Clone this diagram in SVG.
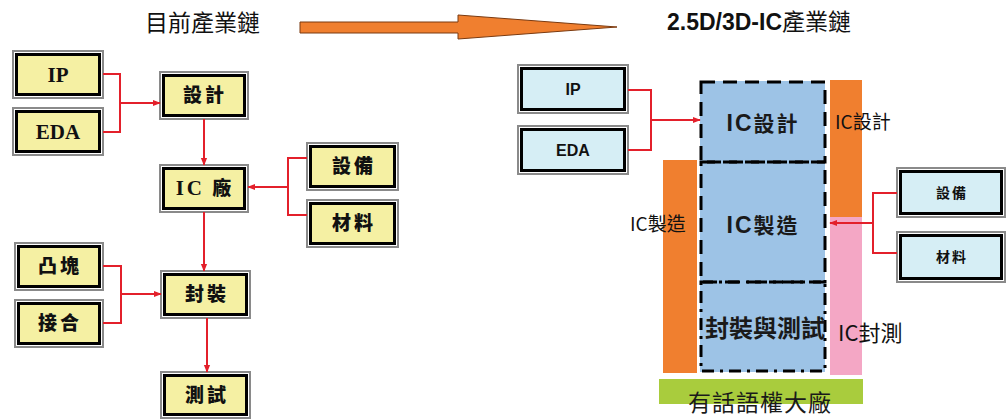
<svg xmlns="http://www.w3.org/2000/svg" width="1006" height="419" viewBox="0 0 1006 419">
<defs>
<style>
.ob{fill:none;stroke:#8a8a8a;stroke-width:2}
.ib{stroke:#000;stroke-width:3}
.y{fill:#F5F0A3}
.b{fill:#D6EEF5}
.con{fill:none;stroke:#E3202B;stroke-width:2}
.ts{font-family:"Liberation Serif","Noto Sans CJK TC",serif;font-weight:bold;font-size:21px;fill:#111;text-anchor:middle}
.tc{font-family:"Noto Sans CJK TC",sans-serif;font-weight:900;font-size:19px;fill:#111;text-anchor:middle;letter-spacing:3px}
.rs{font-family:"Liberation Sans","Noto Sans CJK TC",sans-serif;font-weight:bold;font-size:16px;fill:#111;text-anchor:middle}
.rc{font-family:"Noto Sans CJK TC",sans-serif;font-weight:bold;font-size:14px;fill:#111;text-anchor:middle;letter-spacing:2px}
.ti{font-family:"Noto Sans CJK TC",sans-serif;font-size:23px;fill:#111}
.lb{font-family:"Noto Sans CJK TC",sans-serif;font-size:19px;fill:#111}
.bt{font-family:"Noto Sans CJK TC",sans-serif;font-weight:bold;font-size:21px;fill:#1a1a1a;text-anchor:middle;letter-spacing:2px}
.big{font-family:"Noto Sans CJK TC",sans-serif;font-size:23px;fill:#1a1a1a;text-anchor:middle;letter-spacing:1px}
.dl{fill:none;stroke:#000;stroke-width:3;stroke-dasharray:14 8}
.dd{fill:none;stroke:#000;stroke-width:3;stroke-dasharray:12 6 3 6}
</style>
<marker id="ah" viewBox="0 0 10 10" refX="9" refY="5" markerWidth="4" markerHeight="4" orient="auto"><path d="M0,1 L10,5 L0,9 z" fill="#E3202B"/></marker>
</defs>

<text class="ti" x="145" y="31">目前產業鏈</text>
<text class="ti" x="667" y="30" font-size="24"><tspan font-family="'Liberation Sans',sans-serif" font-weight="bold">2.5D/3D-IC</tspan>產業鏈</text>

<polygon points="300,22 458,22 458,15 617,27 458,39 458,33 300,33" fill="#F07F2F" stroke="#7A3A10" stroke-width="1"/>

<g id="n-ip"><rect class="ob" x="13" y="51" width="90" height="47"/><rect class="y ib" x="16.5" y="54.5" width="83" height="40"/><text class="ts" x="58" y="82">IP</text></g>
<g id="n-eda"><rect class="ob" x="13" y="108" width="90" height="47"/><rect class="y ib" x="16.5" y="111.5" width="83" height="40"/><text class="ts" x="58" y="139">EDA</text></g>
<g id="n-design"><rect class="ob" x="160" y="72" width="88" height="47"/><rect class="y ib" x="163.5" y="75.5" width="81" height="40"/><text class="tc" x="205" y="102">設計</text></g>
<g id="n-fab"><rect class="ob" x="160" y="165" width="88" height="47"/><rect class="y ib" x="163.5" y="168.5" width="81" height="40"/><text class="tc" x="205" y="195"><tspan font-family="'Liberation Serif',serif" font-size="21" font-weight="bold">IC</tspan> 廠</text></g>
<g id="n-equip"><rect class="ob" x="307" y="143" width="91" height="47"/><rect class="y ib" x="310.5" y="146.5" width="84" height="40"/><text class="tc" x="354" y="173">設備</text></g>
<g id="n-mat"><rect class="ob" x="307" y="200" width="91" height="47"/><rect class="y ib" x="310.5" y="203.5" width="84" height="40"/><text class="tc" x="354" y="230">材料</text></g>
<g id="n-bump"><rect class="ob" x="15" y="243" width="88" height="47"/><rect class="y ib" x="18.5" y="246.5" width="81" height="40"/><text class="tc" x="60" y="273">凸塊</text></g>
<g id="n-bond"><rect class="ob" x="15" y="300" width="88" height="47"/><rect class="y ib" x="18.5" y="303.5" width="81" height="40"/><text class="tc" x="60" y="330">接合</text></g>
<g id="n-pkg"><rect class="ob" x="161" y="271" width="89" height="47"/><rect class="y ib" x="164.5" y="274.5" width="82" height="40"/><text class="tc" x="207" y="301">封裝</text></g>
<g id="n-test"><rect class="ob" x="161" y="372" width="89" height="46"/><rect class="y ib" x="164.5" y="375.5" width="82" height="39"/><text class="tc" x="207" y="402">測試</text></g>

<g id="stack">
<rect x="700" y="81" width="125" height="291" fill="#9DC3E6"/>
<rect x="663" y="160" width="34" height="213" fill="#F07F2F"/>
<rect x="830" y="80" width="32" height="137" fill="#F07F2F"/>
<rect x="830" y="217" width="32" height="158" fill="#F4A7C5"/>
<rect x="659" y="379" width="204" height="25" fill="#A9CC3D"/>
<rect class="dl" x="701" y="82" width="124" height="80"/>
<rect class="dl" x="701" y="162" width="124" height="120"/>
<rect class="dd" x="701" y="282" width="124" height="89"/>
<text class="bt" x="763" y="131"><tspan font-family="'Liberation Sans',sans-serif" font-size="23">IC</tspan>設計</text>
<text class="bt" x="763" y="233"><tspan font-family="'Liberation Sans',sans-serif" font-size="23">IC</tspan>製造</text>
<text class="bt" x="765" y="337" style="letter-spacing:0;font-size:24px">封裝與測試</text>
<text class="lb" x="630" y="231">IC製造</text>
<text class="lb" x="835" y="129">IC設計</text>
<text class="lb" x="838" y="341" style="font-size:22px">IC封測</text>
<text class="big" x="760" y="411">有話語權大廠</text>
</g>

<g id="n-ip2"><rect class="ob" x="518" y="65" width="110" height="48"/><rect class="b ib" x="521.5" y="68.5" width="103" height="41"/><text class="rs" x="573" y="95">IP</text></g>
<g id="n-eda2"><rect class="ob" x="518" y="126" width="110" height="48"/><rect class="b ib" x="521.5" y="129.5" width="103" height="41"/><text class="rs" x="573" y="156">EDA</text></g>
<g id="n-equip2"><rect class="ob" x="897" y="168" width="108" height="49"/><rect class="b ib" x="900.5" y="171.5" width="101" height="42"/><text class="rc" x="952" y="198">設備</text></g>
<g id="n-mat2"><rect class="ob" x="897" y="232" width="108" height="50"/><rect class="b ib" x="900.5" y="235.5" width="101" height="43"/><text class="rc" x="952" y="262">材料</text></g>

<g id="connectors">
<path class="con" d="M103,74 H120 V132 H103"/>
<path class="con" d="M120,103 H160" marker-end="url(#ah)"/>
<path class="con" d="M204,119 V165" marker-end="url(#ah)"/>
<path class="con" d="M307,158 H288 V215 H307"/>
<path class="con" d="M288,187 H248" marker-end="url(#ah)"/>
<path class="con" d="M204,212 V271" marker-end="url(#ah)"/>
<path class="con" d="M103,266 H121 V323 H103"/>
<path class="con" d="M121,294 H161" marker-end="url(#ah)"/>
<path class="con" d="M207,318 V372" marker-end="url(#ah)"/>
<path class="con" d="M628,90 H651 V150 H628"/>
<path class="con" d="M651,120 H700" marker-end="url(#ah)"/>
<path class="con" d="M897,193 H873 V253 H897"/>
<path class="con" d="M873,223 H830" marker-end="url(#ah)"/>
</g>
</svg>
